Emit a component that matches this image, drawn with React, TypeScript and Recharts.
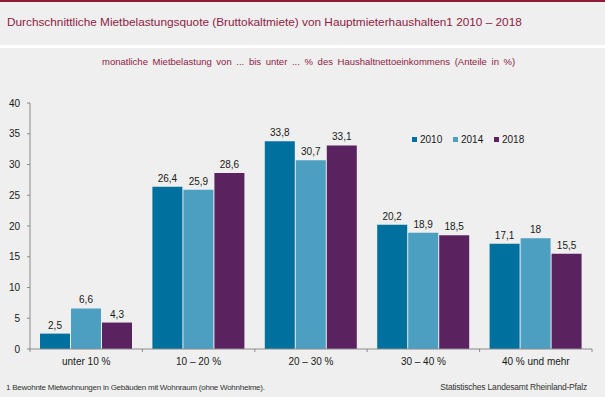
import React from "react";
import { BarChart, Bar, XAxis, YAxis, LabelList } from "recharts";

const categories = ["unter 10 %", "10 – 20 %", "20 – 30 %", "30 – 40 %", "40 % und mehr"];
const values2010 = [2.5, 26.4, 33.8, 20.2, 17.1];
const values2014 = [6.6, 25.9, 30.7, 18.9, 18];
const values2018 = [4.3, 28.6, 33.1, 18.5, 15.5];
const yTicks = [0, 5, 10, 15, 20, 25, 30, 35, 40];

const series = [
  { key: "y2010", name: "2010", color: "#00709f" },
  { key: "y2014", name: "2014", color: "#4d9fc1" },
  { key: "y2018", name: "2018", color: "#5a2360" },
];

const data = categories.map((c, i) => ({
  cat: c,
  y2010: values2010[i],
  y2014: values2014[i],
  y2018: values2018[i],
}));

const W = 605;
const H = 397;
const margin = { top: 103, right: 13, bottom: 18, left: 0 };
const yAxisWidth = 30;
const bandWidth = (W - margin.left - margin.right - yAxisWidth) / categories.length;
const font = "'Liberation Sans', Arial, sans-serif";
const axisColor = "#8a8a8a";

const fmt = (v: any) => String(v).replace(".", ",");

function CatTick(props: any) {
  const { x, y, payload, index } = props;
  const left = x - bandWidth / 2;
  return (
    <g>
      <line x1={left} y1={y} x2={left} y2={y + 3} stroke={axisColor} />
      {index === categories.length - 1 && (
        <line x1={x + bandWidth / 2} y1={y} x2={x + bandWidth / 2} y2={y + 3} stroke={axisColor} />
      )}
      <text x={x} y={y + 16} textAnchor="middle" fontSize={10} fill="#1a1a1a" fontFamily={font}>
        {payload.value}
      </text>
    </g>
  );
}

function LegendBox() {
  return (
    <div style={{ position: "absolute", left: 412, top: 134, display: "flex", fontSize: 10, color: "#1a1a1a" }}>
      {series.map((s) => (
        <div key={s.key} style={{ display: "flex", alignItems: "center", width: 41 }}>
          <span style={{ width: 5, height: 5, background: s.color, marginRight: 3 }} />
          <span>{s.name}</span>
        </div>
      ))}
    </div>
  );
}

export default function App() {
  return (
    <div style={{ position: "absolute", left: 0, top: 0, width: W, height: H, background: "#eeefee", fontFamily: font, overflow: "hidden" }}>
      <div style={{ position: "absolute", left: 0, top: 0, width: W, height: 2, background: "#8c1a34" }} />
      <div style={{ position: "absolute", left: 7, top: 15, fontSize: 11.8, color: "#8e1b45", whiteSpace: "nowrap" }}>
        Durchschnittliche Mietbelastungsquote (Bruttokaltmiete) von Hauptmieterhaushalten1 2010 – 2018
      </div>
      <div style={{ position: "absolute", left: 0, top: 45, width: W, height: 3, background: "#ffffff" }} />
      <div style={{ position: "absolute", left: 102, top: 56, fontSize: 9.5, color: "#8e1b45", whiteSpace: "pre", wordSpacing: 2 }}>
        monatliche Mietbelastung von ... bis unter ... % des Haushaltnettoeinkommens (Anteile in %)
      </div>
      <div style={{ position: "absolute", left: 0, top: 0 }}>
        <BarChart width={W} height={H} data={data} margin={margin} barSize={30} barGap={1}>
          <XAxis
            dataKey="cat"
            tickLine={false}
            tickSize={0}
            tickMargin={0}
            stroke={axisColor}
            height={30}
            interval={0}
            tick={<CatTick />}
          />
          <YAxis
            domain={[0, 40]}
            ticks={yTicks}
            width={yAxisWidth}
            tickSize={3}
            tickMargin={7}
            stroke={axisColor}
            tick={{ fontSize: 10, fill: "#1a1a1a", fontFamily: font }}
            interval={0}
          />
          {series.map((s) => (
            <Bar key={s.key} dataKey={s.key} name={s.name} fill={s.color} isAnimationActive={false}>
              <LabelList
                dataKey={s.key}
                position="top"
                offset={5}
                formatter={fmt}
                style={{ fontSize: 10, fill: "#1a1a1a", fontFamily: font }}
              />
            </Bar>
          ))}
        </BarChart>
      </div>
      <LegendBox />
      <div style={{ position: "absolute", left: 6, top: 383, fontSize: 8, color: "#333333", whiteSpace: "nowrap", letterSpacing: -0.25 }}>
        1 Bewohnte Mietwohnungen in Gebäuden mit Wohnraum (ohne Wohnheime).
      </div>
      <div style={{ position: "absolute", right: 18, top: 382, fontSize: 8.5, color: "#333333", whiteSpace: "nowrap", letterSpacing: -0.2 }}>
        Statistisches Landesamt Rheinland-Pfalz
      </div>
    </div>
  );
}
